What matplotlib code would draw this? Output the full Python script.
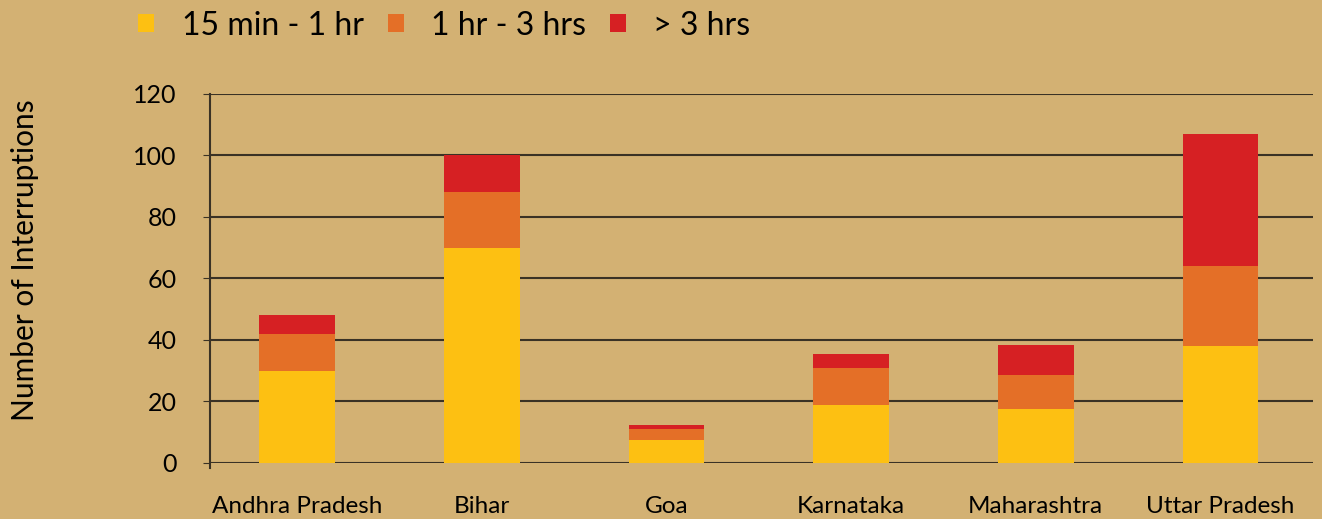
import matplotlib.pyplot as plt
import numpy as np

states = ["Andhra Pradesh", "Bihar", "Goa", "Karnataka", "Maharashtra", "Uttar Pradesh"]
short = [30, 70, 7.5, 19, 17.5, 38]    # 15 min - 1 hr
medium = [12, 18, 3.5, 12, 11, 26]     # 1 hr - 3 hrs
long_ = [6, 12, 1.5, 4.5, 10, 43]      # > 3 hrs
series_names = ["15 min - 1 hr", "1 hr - 3 hrs", "> 3 hrs"]
colors = ["#FDC012", "#E46F27", "#D62023"]
bg = "#D3B173"

plt.rcParams["font.family"] = ["Lato", "DejaVu Sans"]

fig = plt.figure(figsize=(13.22, 5.19), dpi=100, facecolor=bg)
ax = fig.add_axes([0.159, 0.108, 0.834, 0.711], facecolor=bg)

x = np.arange(len(states))
w = 0.41
bottom = np.zeros(len(states))
for vals, name, c in zip([short, medium, long_], series_names, colors):
    ax.bar(x, vals, w, bottom=bottom, color=c, label=name, zorder=3)
    bottom += np.array(vals)

ax.set_ylim(0, 120)
ax.set_xlim(-0.47, 5.5)
ax.set_yticks(range(0, 121, 20))
ax.set_xticks(x)
ax.set_xticklabels(states, fontsize=17.5)
ax.tick_params(axis="y", labelsize=18, length=5, color="#3a3225", pad=19)
ax.tick_params(axis="x", length=0, pad=24)
ax.grid(axis="y", color="#3a3225", linewidth=1.5, zorder=0)
for s in ["top", "right", "bottom"]:
    ax.spines[s].set_visible(False)
ax.spines["left"].set_color("#3a3225")
ax.spines["left"].set_linewidth(1.5)
ax.spines["left"].set_bounds(-1.5, 120)
ax.set_ylabel("Number of Interruptions", fontsize=21.5)
ax.yaxis.set_label_coords(-0.155, 0.55)

fig.legend(loc="upper left", bbox_to_anchor=(0.083, 1.035), ncol=3, frameon=False,
           fontsize=23, handlelength=0.5, handleheight=0.5, handletextpad=0.85,
           columnspacing=0.75)

fig.savefig("out.png", dpi=100, facecolor=bg)
